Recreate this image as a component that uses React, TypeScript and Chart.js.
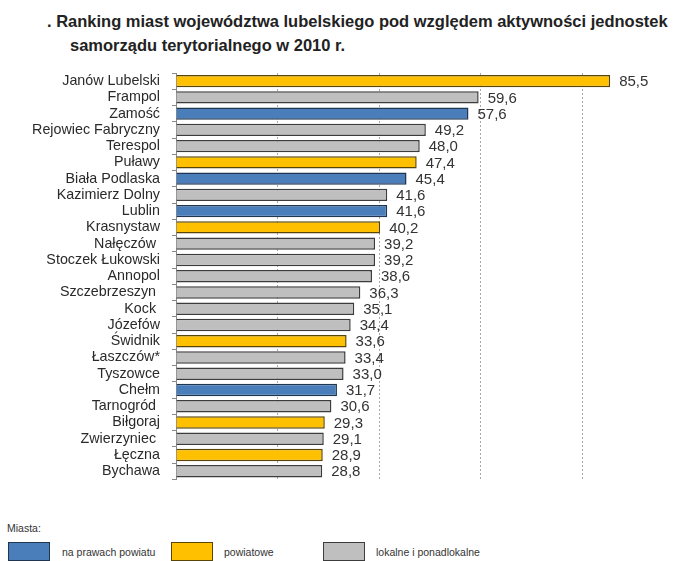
import React, { useEffect, useRef } from "react";
import { Chart, registerables } from "chart.js";

Chart.register(...registerables);

const cities = [
  "Janów Lubelski",
  "Frampol",
  "Zamość",
  "Rejowiec Fabryczny",
  "Terespol",
  "Puławy",
  "Biała Podlaska",
  "Kazimierz Dolny",
  "Lublin",
  "Krasnystaw",
  "Nałęczów ",
  "Stoczek Łukowski",
  "Annopol",
  "Szczebrzeszyn ",
  "Kock ",
  "Józefów",
  "Świdnik",
  "Łaszczów*",
  "Tyszowce",
  "Chełm",
  "Tarnogród ",
  "Biłgoraj",
  "Zwierzyniec ",
  "Łęczna",
  "Bychawa",
];

const scores = [
  85.5, 59.6, 57.6, 49.2, 48.0, 47.4, 45.4, 41.6, 41.6, 40.2, 39.2, 39.2, 38.6,
  36.3, 35.1, 34.4, 33.6, 33.4, 33.0, 31.7, 30.6, 29.3, 29.1, 28.9, 28.8,
];

// 0 = na prawach powiatu, 1 = powiatowe, 2 = lokalne i ponadlokalne
const cityTypes = [
  1, 2, 0, 2, 2, 1, 0, 2, 0, 1, 2, 2, 2, 2, 2, 2, 1, 2, 2, 0, 2, 1, 2, 1, 2,
];

const typeLabels = ["na prawach powiatu", "powiatowe", "lokalne i ponadlokalne"];
const typeColors = ["#4a7ebb", "#ffc000", "#bfbfbf"];
const typeBorders = ["#1f3550", "#5a4508", "#3c3c3c"];

const axisMax = 90;
const gridStep = 20;

const FONT = "'Liberation Sans', Arial, sans-serif";

const valueLabels = {
  id: "valueLabels",
  afterDatasetsDraw(chart: any) {
    const ctx = chart.ctx;
    const meta = chart.getDatasetMeta(0);
    ctx.save();
    ctx.font = `15px ${FONT}`;
    ctx.fillStyle = "#333";
    ctx.textBaseline = "middle";
    ctx.textAlign = "left";
    meta.data.forEach((bar: any, i: number) => {
      const v = chart.data.datasets[0].data[i] as number;
      ctx.fillText(v.toFixed(1).replace(".", ","), bar.x + 9, bar.y + 1);
    });
    ctx.restore();
  },
};

export default function App() {
  const ref = useRef<HTMLCanvasElement>(null);

  useEffect(() => {
    if (!ref.current) return;
    const chart = new Chart(ref.current, {
      type: "bar",
      data: {
        labels: cities,
        datasets: [
          {
            data: scores,
            backgroundColor: cityTypes.map((t) => typeColors[t]),
            borderColor: cityTypes.map((t) => typeBorders[t]),
            borderWidth: 1.5,
            categoryPercentage: 0.76,
            barPercentage: 1,
          },
        ],
      },
      options: {
        indexAxis: "y",
        responsive: false,
        animation: false,
        layout: { padding: { left: 0, top: 73, right: 47, bottom: 18 } },
        plugins: {
          legend: { display: false },
          tooltip: { enabled: false },
          title: { display: false },
        },
        scales: {
          x: {
            min: 0,
            max: axisMax,
            afterBuildTicks: (s: any) => {
              s.ticks = s.ticks.filter((t: any) => t.value % gridStep === 0);
            },
            afterFit: (s: any) => {
              s.height = 0;
            },
            ticks: { display: false, stepSize: gridStep },
            grid: {
              drawTicks: false,
              color: (c: any) => (c.tick && c.tick.value === 0 ? "rgba(0,0,0,0)" : "#a8a8a8"),
              lineWidth: 1,
            },
            border: { display: false, dash: [2, 2] },
          },
          y: {
            afterFit: (s: any) => {
              s.width = 176;
            },
            ticks: {
              font: { family: FONT, size: 14.3 },
              color: "#2a2a2a",
              padding: 12,
              autoSkip: false,
            },
            grid: {
              drawOnChartArea: false,
              drawTicks: true,
              tickLength: 4,
              color: "#8a8a8a",
            },
            border: { display: true, color: "#8a8a8a", width: 1 },
          },
        },
      },
      plugins: [valueLabels],
    });
    return () => chart.destroy();
  }, []);

  const legendBox = (left: number, t: number) => (
    <div
      style={{
        position: "absolute",
        left,
        top: 542,
        width: 42,
        height: 19,
        background: typeColors[t],
        border: `1px solid ${typeBorders[t]}`,
        boxSizing: "border-box",
      }}
    />
  );
  const legendText = (left: number, t: number) => (
    <div
      style={{
        position: "absolute",
        left,
        top: 545,
        fontSize: 10.5,
        color: "#333",
        whiteSpace: "nowrap",
        lineHeight: "14px",
      }}
    >
      {typeLabels[t]}
    </div>
  );

  return (
    <div
      style={{
        position: "absolute",
        left: 0,
        top: 0,
        width: 680,
        height: 561,
        overflow: "hidden",
        background: "#fff",
        fontFamily: FONT,
      }}
    >
      <div
        style={{
          position: "absolute",
          left: 47,
          top: 9,
          fontSize: 16.5,
          fontWeight: "bold",
          color: "#222",
          lineHeight: "24px",
          whiteSpace: "nowrap",
        }}
      >
        <div>. Ranking miast województwa lubelskiego pod względem aktywności jednostek</div>
        <div style={{ paddingLeft: 23 }}>samorządu terytorialnego w 2010 r.</div>
      </div>
      <canvas
        ref={ref}
        width={680}
        height={500}
        style={{ position: "absolute", left: 0, top: 0, width: 680, height: 500 }}
      />
      <div
        style={{
          position: "absolute",
          left: 7,
          top: 521,
          fontSize: 10.5,
          color: "#333",
          lineHeight: "14px",
        }}
      >
        Miasta:
      </div>
      {legendBox(8, 0)}
      {legendText(62, 0)}
      {legendBox(171, 1)}
      {legendText(224, 1)}
      {legendBox(323, 2)}
      {legendText(376, 2)}
    </div>
  );
}
